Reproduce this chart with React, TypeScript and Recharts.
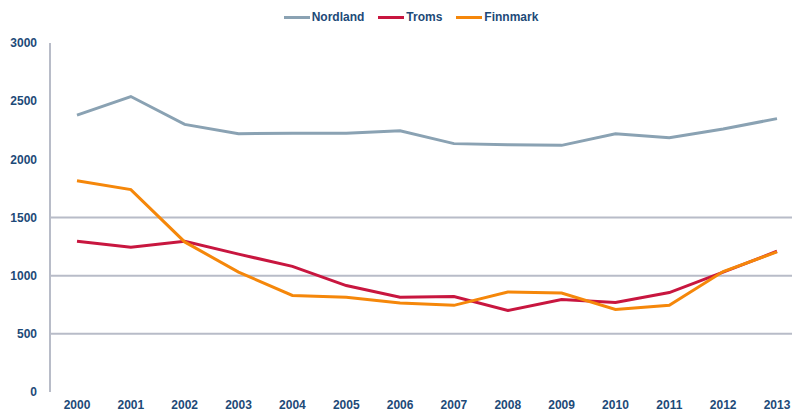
import React from "react";
import {
  LineChart,
  Line,
  XAxis,
  YAxis,
  Legend,
  ReferenceLine,
} from "recharts";

const years = [
  "2000", "2001", "2002", "2003", "2004", "2005", "2006",
  "2007", "2008", "2009", "2010", "2011", "2012", "2013",
];
const nordland = [2380, 2540, 2300, 2220, 2225, 2225, 2245, 2135, 2125, 2120, 2220, 2185, 2260, 2350];
const troms = [1295, 1245, 1295, 1185, 1080, 915, 815, 820, 700, 795, 770, 855, 1030, 1210];
const finnmark = [1815, 1740, 1290, 1030, 830, 815, 765, 745, 860, 850, 710, 745, 1035, 1205];
const yTicks = [0, 500, 1000, 1500, 2000, 2500, 3000];
const gridValues = [500, 1000, 1500];

const data = years.map((year, i) => ({
  year,
  Nordland: nordland[i],
  Troms: troms[i],
  Finnmark: finnmark[i],
}));

const TEXT = "#1d4a78";
const AXIS = "#b8bcc8";
const FONT = "'Liberation Sans', Arial, sans-serif";

const series = [
  { key: "Nordland", color: "#8aa2b3" },
  { key: "Troms", color: "#c8163f" },
  { key: "Finnmark", color: "#f5870a" },
];

const LegendContent = () => (
  <div
    style={{
      display: "flex",
      justifyContent: "center",
      fontFamily: FONT,
      fontWeight: "bold",
      fontSize: 12,
      color: TEXT,
    }}
  >
    {series.map((s) => (
      <div key={s.key} style={{ display: "flex", alignItems: "center", marginRight: 14 }}>
        <div style={{ width: 26, height: 3, background: s.color, marginRight: 2 }} />
        <span>{s.key}</span>
      </div>
    ))}
  </div>
);

const App: React.FC = () => {
  return (
    <div style={{ position: "absolute", left: 0, top: 0, width: 792, height: 412, overflow: "hidden", background: "#fff" }}>
      <LineChart
        width={810}
        height={412}
        data={data}
        margin={{ top: 29, right: 6, left: 0, bottom: 0 }}
        style={{ overflow: "visible" }}
      >
        <XAxis
          dataKey="year"
          axisLine={false}
          tickLine={false}
          interval={0}
          height={20}
          padding={{ left: 27, right: 27 }}
          tick={{ fill: TEXT, fontSize: 12, fontWeight: "bold", fontFamily: FONT }}
        />
        <YAxis
          domain={[0, 3000]}
          ticks={yTicks}
          width={50}
          axisLine={{ stroke: AXIS, strokeWidth: 2 }}
          tickLine={false}
          tickMargin={7}
          tick={{ fill: TEXT, fontSize: 12, fontWeight: "bold", fontFamily: FONT }}
        />
        {gridValues.map((v) => (
          <ReferenceLine key={v} y={v} stroke={AXIS} strokeWidth={2} />
        ))}
        <Legend
          verticalAlign="top"
          content={<LegendContent />}
          wrapperStyle={{ top: 10, left: 0, width: 836 }}
        />
        {series.map((s) => (
          <Line
            key={s.key}
            type="linear"
            dataKey={s.key}
            stroke={s.color}
            strokeWidth={3}
            dot={false}
            activeDot={false}
            isAnimationActive={false}
          />
        ))}
      </LineChart>
    </div>
  );
};

export default App;
